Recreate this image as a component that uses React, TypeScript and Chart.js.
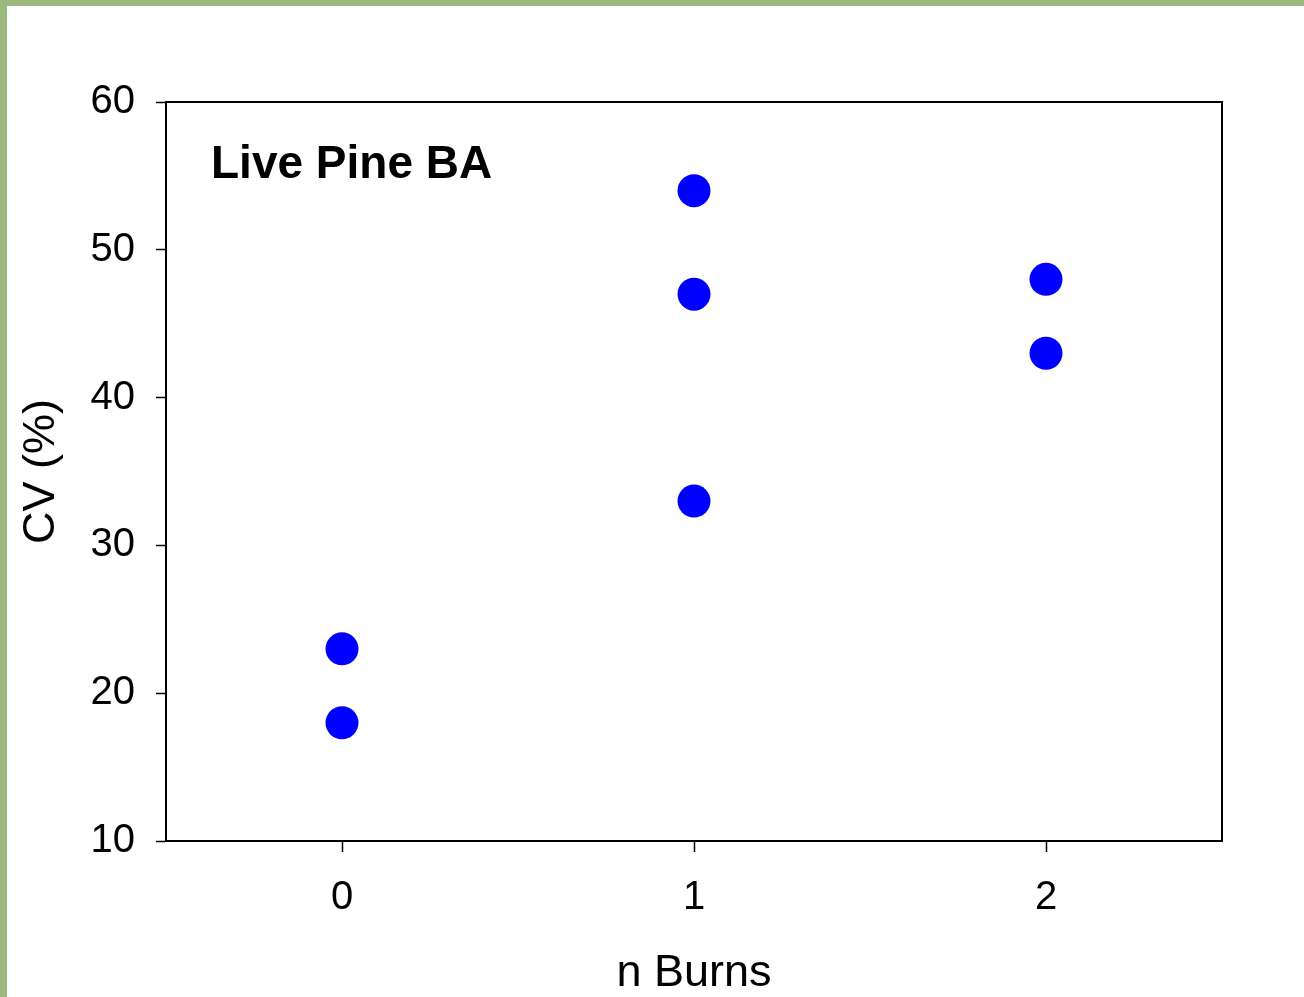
import React, { useEffect, useRef } from "react";
import { Chart, registerables } from "chart.js";

Chart.register(...registerables);

const burnsX = [0, 0, 1, 1, 1, 2, 2];
const cvValues = [23, 18, 54, 47, 33, 48, 43];
const xTickValues = [0, 1, 2];
const yTickValues = [10, 20, 30, 40, 50, 60];
const panelLabel = "Live Pine BA";
const xTitle = "n Burns";
const yTitle = "CV (%)";

const FONT = "'Liberation Sans', Arial, sans-serif";

const framePlugin = {
  id: "frame",
  beforeDraw(chart: any) {
    const { ctx, width, height } = chart;
    ctx.save();
    ctx.fillStyle = "#ffffff";
    ctx.fillRect(0, 0, width, height);
    ctx.fillStyle = "#9bb97f";
    ctx.fillRect(0, 0, width, 6);
    ctx.fillRect(0, 0, 7, height);
    ctx.restore();
  },
  afterDatasetsDraw(chart: any) {
    const { ctx, chartArea } = chart;
    ctx.save();
    ctx.strokeStyle = "#000000";
    ctx.lineWidth = 2;
    ctx.beginPath();
    ctx.moveTo(chartArea.left, chartArea.top);
    ctx.lineTo(chartArea.right, chartArea.top);
    ctx.lineTo(chartArea.right, chartArea.bottom);
    ctx.stroke();
    ctx.fillStyle = "#000000";
    ctx.font = `bold 46px ${FONT}`;
    ctx.textAlign = "left";
    ctx.textBaseline = "alphabetic";
    ctx.fillText(panelLabel, chartArea.left + 45, chartArea.top + 76);
    ctx.restore();
  },
};

export default function App() {
  const ref = useRef<HTMLCanvasElement>(null);

  useEffect(() => {
    if (!ref.current) return;
    const points = burnsX.map((x, i) => ({ x, y: cvValues[i] }));
    const chart = new Chart(ref.current, {
      type: "scatter",
      data: {
        datasets: [
          {
            data: points,
            backgroundColor: "#0000ff",
            borderColor: "#0000ff",
            pointRadius: 16.5,
            pointHoverRadius: 16.5,
            borderWidth: 0,
          },
        ],
      },
      options: {
        animation: false,
        responsive: false,
        devicePixelRatio: 1,
        layout: { padding: { left: 0, right: 82, top: 102, bottom: 0 } },
        plugins: { legend: { display: false }, tooltip: { enabled: false } },
        scales: {
          x: {
            type: "linear",
            min: -0.5,
            max: 2.5,
            afterBuildTicks: (scale: any) => {
              scale.ticks = xTickValues.map((v) => ({ value: v }));
            },
            afterFit: (scale: any) => {
              scale.height = 156;
            },
            grid: {
              display: true,
              drawOnChartArea: false,
              drawTicks: true,
              tickLength: 11,
              tickWidth: 1.5,
              tickColor: "#000000",
              color: "#000000",
            },
            border: { display: true, color: "#000000", width: 2 },
            ticks: {
              color: "#000000",
              font: { family: FONT, size: 40 },
              padding: 22,
              maxRotation: 0,
              callback: (v: any) => String(v),
            },
            title: {
              display: true,
              text: xTitle,
              color: "#000000",
              font: { family: FONT, size: 45 },
              padding: { top: 0, bottom: -4 },
            },
          },
          y: {
            type: "linear",
            min: 10,
            max: 60,
            afterBuildTicks: (scale: any) => {
              scale.ticks = yTickValues.map((v) => ({ value: v }));
            },
            afterFit: (scale: any) => {
              scale.width = 166;
            },
            grid: {
              display: true,
              drawOnChartArea: false,
              drawTicks: true,
              tickLength: 10,
              tickWidth: 1.5,
              tickColor: "#000000",
              color: "#000000",
            },
            border: { display: true, color: "#000000", width: 2 },
            ticks: {
              color: "#000000",
              font: { family: FONT, size: 40 },
              padding: 21,
              callback: (v: any) => String(v),
            },
            title: {
              display: true,
              text: yTitle,
              color: "#000000",
              font: { family: FONT, size: 45 },
              padding: { top: 15, bottom: 0 },
            },
          },
        },
      },
      plugins: [framePlugin],
    });
    return () => chart.destroy();
  }, []);

  return (
    <div style={{ position: "fixed", left: 0, top: 0, width: 1304, height: 997, background: "#fff" }}>
      <canvas ref={ref} width={1304} height={997} style={{ display: "block", width: 1304, height: 997 }} />
    </div>
  );
}
